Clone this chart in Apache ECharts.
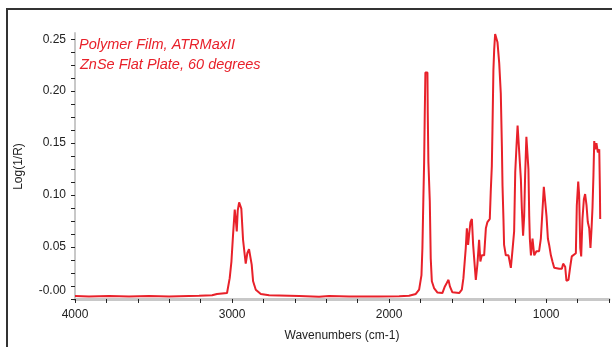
<!DOCTYPE html>
<html>
<head>
<meta charset="utf-8">
<script src="https://cdn.jsdelivr.net/npm/echarts@6/dist/echarts.min.js"></script>
<style>
  html, body { margin: 0; padding: 0; background: #fff; }
  #chart { width: 612px; height: 347px; }
</style>
</head>
<body>
<div id="chart"></div>
<script>
// spectrum (cm-1, Log(1/R))
var wavenumbers = [
    4000, 3911, 3783, 3656, 3529, 3401, 3274, 3210, 3127, 3096,
    3032, 3015, 3004, 2994, 2983, 2975, 2970, 2964, 2955, 2947,
    2941, 2930, 2919, 2913, 2903, 2892, 2881, 2875, 2866, 2849,
    2817, 2764, 2573, 2446, 2382, 2255, 2064, 1936, 1873, 1830,
    1809, 1794, 1788, 1782, 1777, 1773, 1769, 1756, 1754, 1750,
    1741, 1735, 1728, 1714, 1692, 1661, 1645, 1633, 1622, 1613,
    1597, 1554, 1537, 1527, 1512, 1505, 1497, 1490, 1482, 1473,
    1465, 1454, 1448, 1438, 1427, 1419, 1410, 1395, 1384, 1374,
    1359, 1353, 1346, 1342, 1336, 1331, 1325, 1317, 1310, 1299,
    1289, 1282, 1278, 1272, 1268, 1257, 1240, 1225, 1215, 1204,
    1197, 1189, 1182, 1170, 1161, 1155, 1147, 1140, 1134, 1126,
    1117, 1113, 1108, 1104, 1097, 1087, 1076, 1062, 1045, 1034,
    1024, 1015, 1006, 998, 989, 981, 970, 960, 949, 917,
    900, 892, 879, 871, 858, 847, 837, 811, 805, 796,
    790, 783, 777, 769, 760, 752, 743, 735, 726, 718,
    711, 705, 699, 694, 688, 680, 671, 662, 658, 656
];
var absorbance = [
    0.0029, 0.0024, 0.0029, 0.0024, 0.0029, 0.0024, 0.0029, 0.0031, 0.0035, 0.0048,
    0.0057, 0.020, 0.036, 0.061, 0.086, 0.074, 0.065, 0.085, 0.093, 0.094,
    0.087, 0.057, 0.042, 0.034, 0.044, 0.048, 0.047, 0.033, 0.017, 0.0089,
    0.0048, 0.0035, 0.0029, 0.0022, 0.0029, 0.0024, 0.0024, 0.0026, 0.0031, 0.0048,
    0.0089, 0.023, 0.049, 0.096, 0.132, 0.179, 0.218, 0.218, 0.179, 0.132,
    0.094, 0.039, 0.017, 0.0105, 0.0062, 0.0057, 0.0121, 0.0153, 0.0184, 0.0121,
    0.0064, 0.0057, 0.0089, 0.020, 0.049, 0.068, 0.052, 0.063, 0.074, 0.077,
    0.052, 0.030, 0.0184, 0.033, 0.057, 0.036, 0.042, 0.042, 0.068, 0.074,
    0.077, 0.103, 0.128, 0.163, 0.220, 0.240, 0.255, 0.255, 0.247, 0.227,
    0.198, 0.147, 0.109, 0.077, 0.052, 0.042, 0.042, 0.030, 0.046, 0.065,
    0.122, 0.147, 0.167, 0.167, 0.115, 0.087, 0.061, 0.080, 0.119, 0.156,
    0.156, 0.125, 0.080, 0.058, 0.042, 0.058, 0.042, 0.046, 0.046, 0.058,
    0.084, 0.108, 0.109, 0.080, 0.058, 0.052, 0.042, 0.036, 0.030, 0.029,
    0.029, 0.034, 0.031, 0.0175, 0.0184, 0.031, 0.041, 0.044, 0.090, 0.113,
    0.100, 0.049, 0.041, 0.077, 0.096, 0.101, 0.090, 0.074, 0.068, 0.049,
    0.068, 0.088, 0.119, 0.152, 0.144, 0.150, 0.141, 0.144, 0.106, 0.077
];
var xLabels = [4000, 3000, 2000, 1000];
var xTicks = [600, 800, 1000, 1200, 1400, 1600, 1800, 2000, 2200, 2400, 2600, 2800, 3000, 3200, 3400, 3600, 3800, 4000];
var yLabels = [0, 0.05, 0.10, 0.15, 0.20, 0.25];
var yTicks = [0, 0.0125, 0.025, 0.0375, 0.05, 0.0625, 0.075, 0.0875, 0.10, 0.1125, 0.125, 0.1375,
    0.15, 0.1625, 0.175, 0.1875, 0.20, 0.2125, 0.225, 0.2375, 0.25];
var noteLines = ['Polymer Film, ATRMaxII', 'ZnSe Flat Plate, 60 degrees'];

var myChart = echarts.init(document.getElementById('chart'), null, { renderer: 'canvas' });
var font = 'Liberation Sans, Arial, sans-serif';
var red = '#e8212a';

var option = {
    animation: false,
    backgroundColor: '#fff',
    grid: { left: 75, right: 3, top: 33, bottom: 45 },
    xAxis: {
        type: 'value',
        inverse: true,
        min: 600,
        max: 4000,
        name: 'Wavenumbers (cm-1)',
        nameLocation: 'middle',
        nameGap: 30,
        nameTextStyle: { color: '#222', fontSize: 12, fontFamily: font },
        axisLine: { show: true, lineStyle: { color: '#c8c8c8', width: 3 } },
        axisTick: { show: true, customValues: xTicks, length: 4, lineStyle: { color: '#222', width: 1 } },
        axisLabel: {
            customValues: xLabels,
            color: '#222',
            fontSize: 12,
            fontFamily: font,
            margin: 9,
            formatter: function (v) { return String(v); }
        },
        splitLine: { show: false }
    },
    yAxis: {
        type: 'value',
        min: -0.001,
        max: 0.256,
        name: 'Log(1/R)',
        nameLocation: 'middle',
        nameGap: 50,
        nameTextStyle: { color: '#222', fontSize: 12, fontFamily: font },
        axisLine: { show: true, lineStyle: { color: '#c8c8c8', width: 2 } },
        axisTick: { show: true, customValues: yTicks, length: 4, lineStyle: { color: '#222', width: 1 } },
        axisLabel: {
            customValues: yLabels,
            color: '#222',
            fontSize: 12,
            fontFamily: font,
            margin: 9,
            formatter: function (v) {
                if (Math.abs(v) < 1e-9) return '{z|-0.00}';
                return v.toFixed(2);
            },
            rich: {
                z: { color: '#222', fontSize: 12, fontFamily: font, padding: [0, 0, 16, 0] }
            }
        },
        splitLine: { show: false }
    },
    graphic: [
        {
            // outer frame: only the left and top edges fall inside the picture
            type: 'polyline',
            shape: { points: [[7, 347], [7, 9], [612, 9]] },
            style: { fill: null, stroke: '#333', lineWidth: 2 },
            silent: true
        },
        {
            type: 'text',
            left: 79,
            top: 37,
            style: { text: noteLines[0], fill: red, font: 'italic 14.5px ' + font }
        },
        {
            type: 'text',
            left: 80,
            top: 57,
            style: { text: noteLines[1], fill: red, font: 'italic 14.5px ' + font }
        }
    ],
    series: [
        {
            type: 'line',
            showSymbol: false,
            data: wavenumbers.map(function (w, i) { return [w, absorbance[i]]; }),
            lineStyle: { color: red, width: 2 },
            itemStyle: { color: red }
        }
    ]
};
myChart.setOption(option);
</script>
</body>
</html>
